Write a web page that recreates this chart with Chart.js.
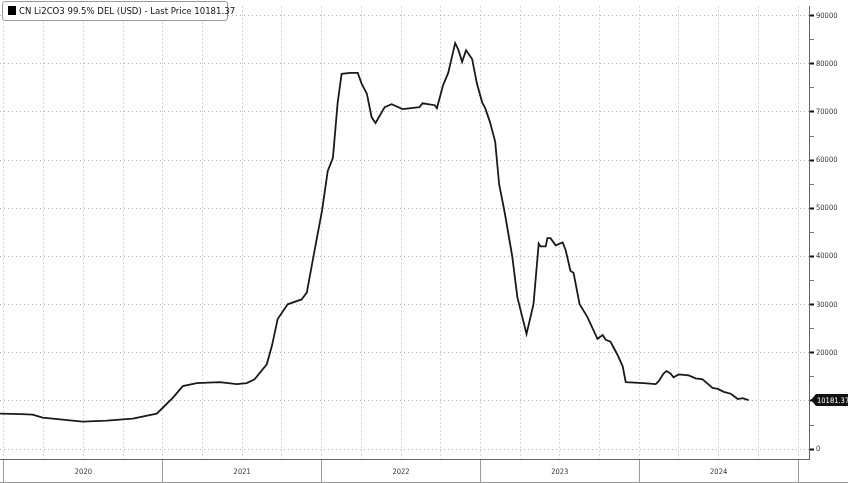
<!DOCTYPE html>
<html lang="en">
<head>
<meta charset="UTF-8">
<title>CN Li2CO3 99.5% DEL (USD)</title>
<script src="https://cdn.jsdelivr.net/npm/chart.js@4"></script>
<style>
  html, body { margin: 0; padding: 0; background: #fff; overflow: hidden; }
  #wrap { position: relative; width: 848px; height: 482px; border-bottom: 1px solid #999; }
  #legend {
    position: absolute; left: 2px; top: 1px; width: 224px; height: 18px;
    border: 1px solid #999; border-radius: 3px; background: #fff;
    font: 9.5px 'DejaVu Sans Condensed', 'Liberation Sans Narrow', sans-serif; color: #111;
    line-height: 18px; white-space: nowrap;
  }
  #legend i { display: inline-block; width: 8px; height: 9px; background: #000; margin: 0 3px 0 5px; vertical-align: -1px; }
</style>
</head>
<body>
<div id="wrap">
  <canvas id="chart" width="848" height="482"></canvas>
  <div id="legend"><i></i><span id="legendText"></span></div>
</div>
<script>
const seriesName = 'CN Li2CO3 99.5% DEL (USD)';
const years = ['2020', '2021', '2022', '2023', '2024'];
const yTicks = [0, 10000, 20000, 30000, 40000, 50000, 60000, 70000, 80000, 90000];

const dates = [
  '2019-12-23', '2020-02-10', '2020-03-07', '2020-03-30', '2020-05-15', '2020-06-30', '2020-08-25', '2020-10-24',
  '2020-12-18', '2021-01-01', '2021-01-24', '2021-02-16', '2021-03-20', '2021-05-12', '2021-06-20', '2021-07-13',
  '2021-07-31', '2021-08-28', '2021-09-09', '2021-09-22', '2021-10-15', '2021-11-16', '2021-11-28', '2021-12-16',
  '2022-01-02', '2022-01-15', '2022-01-27', '2022-02-07', '2022-02-16', '2022-03-08', '2022-03-25', '2022-04-03',
  '2022-04-15', '2022-04-26', '2022-05-05', '2022-05-26', '2022-06-11', '2022-07-06', '2022-08-14', '2022-08-21',
  '2022-09-18', '2022-09-23', '2022-10-07', '2022-10-19', '2022-10-28', '2022-11-04', '2022-11-11', '2022-11-20',
  '2022-11-29', '2022-12-13', '2022-12-24', '2023-01-05', '2023-01-12', '2023-01-23', '2023-02-04', '2023-02-13',
  '2023-02-22', '2023-02-27', '2023-03-15', '2023-03-27', '2023-04-17', '2023-05-03', '2023-05-15', '2023-05-19',
  '2023-05-31', '2023-06-04', '2023-06-11', '2023-06-23', '2023-07-09', '2023-07-16', '2023-07-27', '2023-08-03',
  '2023-08-17', '2023-09-04', '2023-09-27', '2023-10-09', '2023-10-16', '2023-10-27', '2023-11-12', '2023-11-24',
  '2023-12-01', '2024-01-11', '2024-02-08', '2024-02-15', '2024-02-26', '2024-03-04', '2024-03-13', '2024-03-20',
  '2024-04-01', '2024-04-24', '2024-05-10', '2024-05-26', '2024-06-18', '2024-06-30', '2024-07-14', '2024-07-30',
  '2024-08-15', '2024-08-26', '2024-09-09'
];
const prices = [
  7360, 7250, 7160, 6540, 6130, 5730, 5930, 6340,
  7360, 8590, 10630, 13090, 13700, 13900, 13500, 13700,
  14500, 17600, 21500, 27000, 30060, 31080, 32500, 41300,
  49500, 57700, 60500, 72000, 77900, 78100, 78100, 75900,
  73800, 68900, 67700, 71000, 71600, 70600, 71000, 71800,
  71400, 70800, 75500, 78100, 81600, 84300, 83000, 80400,
  82800, 81000, 75900, 72000, 70800, 67900, 63800, 55000,
  50900, 48500, 40100, 31500, 23900, 30100, 42700, 42100,
  42100, 43800, 43800, 42300, 42900, 41300, 37000, 36600,
  30100, 27400, 22900, 23700, 22700, 22300, 19600, 17200,
  13900, 13700, 13500, 14100, 15700, 16200, 15700, 14900,
  15500, 15300, 14700, 14500, 12700, 12500, 11900, 11500,
  10400, 10600, 10181.37
];

const lastPrice = prices[prices.length - 1];
document.getElementById('legendText').textContent = seriesName + ' - Last Price ' + lastPrice.toFixed(2);

// date string -> fractional year
function toYear(d) {
  const [y, m, dd] = d.split('-').map(Number);
  const start = Date.UTC(y, 0, 1), end = Date.UTC(y + 1, 0, 1);
  return y + (Date.UTC(y, m - 1, dd) - start) / (end - start);
}

const points = dates.map((d, i) => ({ x: toYear(d), y: prices[i] }));

// quarter grid ticks, years labelled at mid-year
const firstYear = Number(years[0]);
const quarterTicks = [];
for (let i = 0; i <= years.length * 4; i++) quarterTicks.push(firstYear + i / 4);

const minorY = [];
for (let v = 0; v <= yTicks[yTicks.length - 1]; v += 5000) minorY.push(v);

const fontFamily = "'DejaVu Sans Condensed', 'Liberation Sans Narrow', sans-serif";
const font = { family: fontFamily, size: 7.5 };

const lastTag = {
  id: 'lastTag',
  afterDraw(chart) {
    const ctx = chart.ctx;
    const y = chart.scales.y.getPixelForValue(lastPrice);
    const x = chart.chartArea.right + 2;
    ctx.save();
    ctx.fillStyle = '#111';
    ctx.beginPath();
    ctx.moveTo(x, y);
    ctx.lineTo(x + 5, y - 6);
    ctx.lineTo(848, y - 6);
    ctx.lineTo(848, y + 6);
    ctx.lineTo(x + 5, y + 6);
    ctx.closePath();
    ctx.fill();
    ctx.fillStyle = '#fff';
    ctx.font = '7.5px ' + fontFamily;
    ctx.textBaseline = 'middle';
    ctx.fillText(lastPrice.toFixed(2), x + 6, y + 0.5);
    ctx.restore();
  }
};

new Chart(document.getElementById('chart'), {
  type: 'line',
  data: {
    datasets: [{
      label: seriesName,
      data: points,
      borderColor: '#1a1a1a',
      borderWidth: 1.8,
      pointRadius: 0,
      tension: 0
    }]
  },
  options: {
    responsive: false,
    animation: false,
    layout: { padding: 0 },
    plugins: { legend: { display: false }, tooltip: { enabled: false } },
    scales: {
      x: {
        type: 'linear',
        position: 'bottom',
        min: 2019.975,
        max: 2025.069,
        afterBuildTicks: s => { s.ticks = quarterTicks.map(v => ({ value: v })); },
        afterFit: s => { s.height = 23; },
        grid: {
          color: '#b0b0b0',
          lineWidth: 1,
          tickLength: 23,
          tickColor: c => (c.tick && c.tick.value % 1 === 0) ? '#9a9a9a' : 'rgba(0,0,0,0)'
        },
        border: { display: true, color: '#666', width: 1, dash: [1, 3] },
        ticks: {
          autoSkip: false,
          maxRotation: 0,
          padding: -14,
          color: '#333',
          font: font,
          callback: v => (Math.abs(v % 1 - 0.5) < 1e-6) ? years[Math.floor(v) - firstYear] : ''
        }
      },
      y: {
        position: 'right',
        min: -2050,
        max: 91900,
        afterBuildTicks: s => { s.ticks = minorY.map(v => ({ value: v })); },
        afterFit: s => { s.width = 39; },
        grid: {
          color: c => (c.tick && yTicks.includes(c.tick.value)) ? '#b0b0b0' : 'rgba(0,0,0,0)',
          lineWidth: 1,
          tickLength: 5,
          tickColor: c => (c.tick && yTicks.includes(c.tick.value)) ? '#111' : '#777',
          tickWidth: c => (c.tick && yTicks.includes(c.tick.value)) ? 2 : 1
        },
        border: { display: true, color: '#666', width: 1, dash: [1, 3] },
        ticks: {
          autoSkip: false,
          padding: 2,
          color: '#333',
          font: font,
          callback: v => yTicks.includes(v) ? String(v) : ''
        }
      }
    }
  },
  plugins: [lastTag]
});
</script>
</body>
</html>
